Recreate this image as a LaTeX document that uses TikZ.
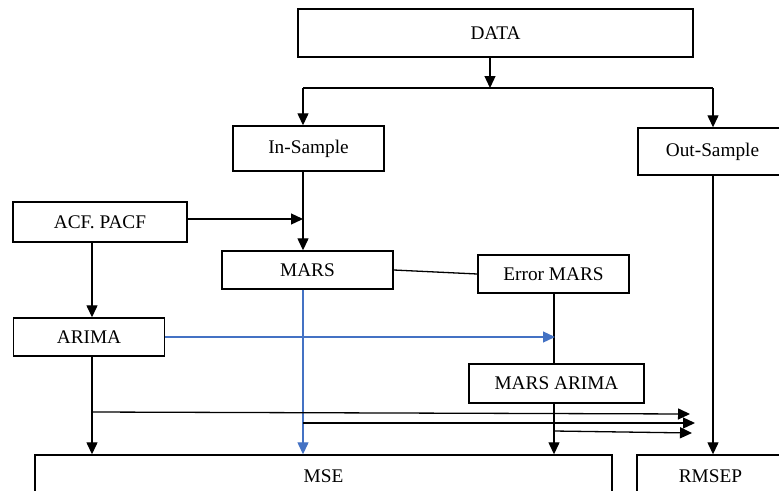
\documentclass[tikz,border=0pt]{standalone}
\usepackage{fontspec}
\setmainfont{Liberation Serif}
\usetikzlibrary{arrows.meta}
\definecolor{officeblue}{HTML}{4472C4}
\begin{document}
\begin{tikzpicture}[x=1pt,y=-1pt,
  box/.style={draw=black,line width=1.4pt,rectangle,inner sep=0pt,
    font=\fontsize{19.3}{23}\selectfont},
  line/.style={draw=black,line width=1.3pt},
  arr/.style={line,-{Triangle[length=12pt,width=11pt]}},
  barr/.style={draw=officeblue,line width=1.3pt,-{Triangle[length=12pt,width=11pt]}}]
\useasboundingbox (0,0) rectangle (779,490);
\clip (0,0) rectangle (779,490);
% boxes
\node[box,minimum width=395pt,minimum height=48pt] (DATA) at (495.5,33) {DATA};
\node[box,minimum width=151pt,minimum height=45pt] (IN) at (308.5,148.5) {In-Sample};
\node[box,minimum width=149pt,minimum height=47pt] (OUT) at (712.5,151.5) {Out-Sample};
\node[box,minimum width=174pt,minimum height=40pt] (ACF) at (100,222) {ACF. PACF};
\node[box,minimum width=171pt,minimum height=38pt] (MARS) at (307.5,270) {MARS};
\node[box,minimum width=151pt,minimum height=38pt] (ERR) at (553.5,274) {Error MARS};
\node[box,minimum width=151pt,minimum height=38pt] (ARIMA) at (89,337) {ARIMA};
\node[box,minimum width=175pt,minimum height=39pt] (MA) at (556.5,383.5) {MARS ARIMA};
\node[box,minimum width=577pt,minimum height=42pt] (MSE) at (323.5,476) {MSE};
\node[box,minimum width=147pt,minimum height=42pt] (RMSEP) at (710.5,476) {RMSEP};
% junction coordinates
\coordinate (j1) at (490,88);
\coordinate (jL) at (303,88);
\coordinate (jR) at (713,88);
\coordinate (m1) at (303,219);
\coordinate (x92) at (92,0);
\coordinate (x303) at (303,0);
\coordinate (x554) at (554,0);
\coordinate (x713) at (713,0);
\coordinate (b1) at (555,337);
\coordinate (h1s) at (92,412);
\coordinate (h1e) at (690,414);
\coordinate (h2s) at (303,423);
\coordinate (h2e) at (695,423);
\coordinate (h3s) at (554,431);
\coordinate (h3e) at (692,433);
% connectors
\draw[arr] (DATA.south -| j1) -- (j1);
\draw[line] (jL) -- (jR);
\draw[arr] (jL) -- (jL |- IN.north);
\draw[arr] (jR) -- (jR |- OUT.north);
\draw[arr] (IN.south -| x303) -- (x303 |- MARS.north);
\draw[arr] (ACF.east |- m1) -- (m1);
\draw[arr] (ACF.south -| x92) -- (x92 |- ARIMA.north);
\draw[line] (MARS.east) -- (ERR.west);
\draw[line] (ERR.south -| x554) -- (x554 |- MA.north);
\draw[barr] (ARIMA.east) -- (b1);
\draw[barr] (MARS.south -| x303) -- (x303 |- MSE.north);
\draw[arr] (ARIMA.south -| x92) -- (x92 |- MSE.north);
\draw[arr] (MA.south -| x554) -- (x554 |- MSE.north);
\draw[arr] (OUT.south -| x713) -- (x713 |- RMSEP.north);
\draw[arr] (h1s) -- (h1e);
\draw[arr] (h2s) -- (h2e);
\draw[arr] (h3s) -- (h3e);
\end{tikzpicture}
\end{document}
